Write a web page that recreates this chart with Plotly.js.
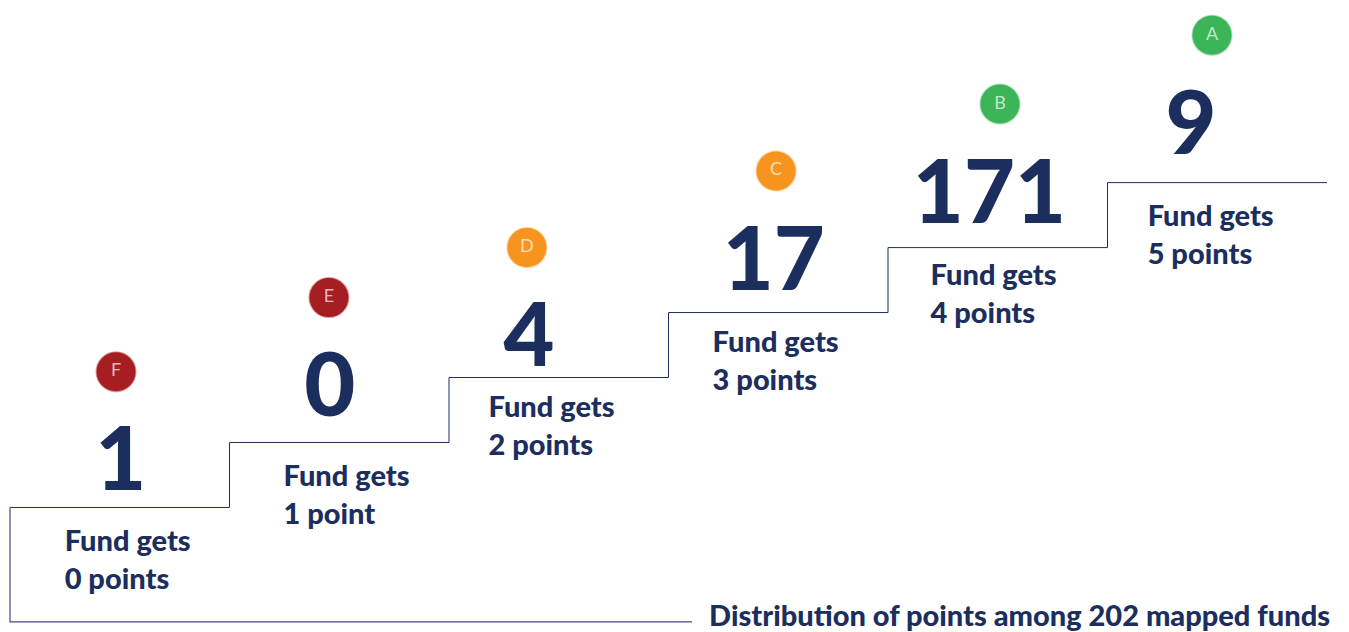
<!DOCTYPE html>
<html>
<head>
<meta charset="utf-8">
<script src="https://cdn.plot.ly/plotly-3.0.1.min.js"></script>
<style>html,body{margin:0;padding:0;background:#fff;overflow:hidden}#chart{width:1349px;height:632px}</style>
</head>
<body>
<div id="chart"></div>
<script>
// Step diagram: x unit = one stair tread, y unit = one stair riser.
const stepEdges = [0, 1, 2, 3, 4, 5, 6];
const stepLevels = [0, 1, 2, 3, 4, 5, 5];
const frameX = [3.107, 0, 0];
const frameY = [-1.76, -1.76, 0];

const grades = ["F", "E", "D", "C", "B", "A"];
const fundCounts = ["1", "0", "4", "17", "171", "9"];
const pointLabels = ["0 points", "1 point", "2 points", "3 points", "4 points", "5 points"];
const gradeColors = ["#a61e22", "#a61e22", "#f7941e", "#f7941e", "#3cb558", "#3cb558"];

const gradeX = [0.483, 1.453, 2.355, 3.49, 4.51, 5.476];
const gradeY = [2.09, 3.23, 4.0, 5.18, 6.21, 7.27];
const countX = [0.505, 1.457, 2.365, 3.48, 4.462, 5.38];
const countY = [0.6, 1.74, 2.51, 3.69, 4.71, 5.78];
const labelX = [0.249, 1.246, 2.18, 3.201, 4.194, 5.183];
const labelY = [-0.85, 0.15, 1.21, 2.21, 3.24, 4.15];

const captionText = "Distribution of points among 202 mapped funds";
const captionX = 3.185;
const captionY = -1.71;

const ink = "#1c2e5d";
const fontFamily = "Lato, 'Open Sans', sans-serif";

const traces = [
  {x: stepEdges, y: stepLevels, mode: "lines", line: {color: ink, width: 1, shape: "hv"}, hoverinfo: "skip"},
  {x: frameX, y: frameY, mode: "lines", line: {color: "#3f4f7c", width: 1.2}, hoverinfo: "skip"},
  {x: gradeX, y: gradeY, mode: "markers+text", text: grades, textposition: "middle center",
   textfont: {family: fontFamily, size: 18, color: "rgba(255,255,255,0.7)"},
   marker: {size: 39, color: gradeColors, line: {width: 2, color: gradeColors.map(c => c + "70")}}, hoverinfo: "skip"},
  {x: countX, y: countY, mode: "text", text: fundCounts, textposition: "middle center",
   textfont: {family: fontFamily, size: 88, color: ink, weight: 900}, hoverinfo: "skip"},
  {x: labelX, y: labelY, mode: "text", text: pointLabels.map(p => "Fund gets<br>" + p), textposition: "middle right",
   textfont: {family: fontFamily, size: 29, color: ink, weight: 900}, hoverinfo: "skip"},
  {x: [captionX], y: [captionY], mode: "text", text: [captionText], textposition: "middle right",
   textfont: {family: fontFamily, size: 29, color: ink, weight: 900}, hoverinfo: "skip"}
];

const layout = {
  width: 1349, height: 632,
  margin: {l: 0, r: 0, t: 0, b: 0},
  paper_bgcolor: "#fff", plot_bgcolor: "#fff",
  showlegend: false,
  hovermode: false,
  xaxis: {range: [-0.04556, 6.1002], visible: false, fixedrange: true},
  yaxis: {range: [-1.917, 7.811], visible: false, fixedrange: true}
};
Plotly.newPlot("chart", traces, layout, {displayModeBar: false, staticPlot: true});
</script>
</body>
</html>
